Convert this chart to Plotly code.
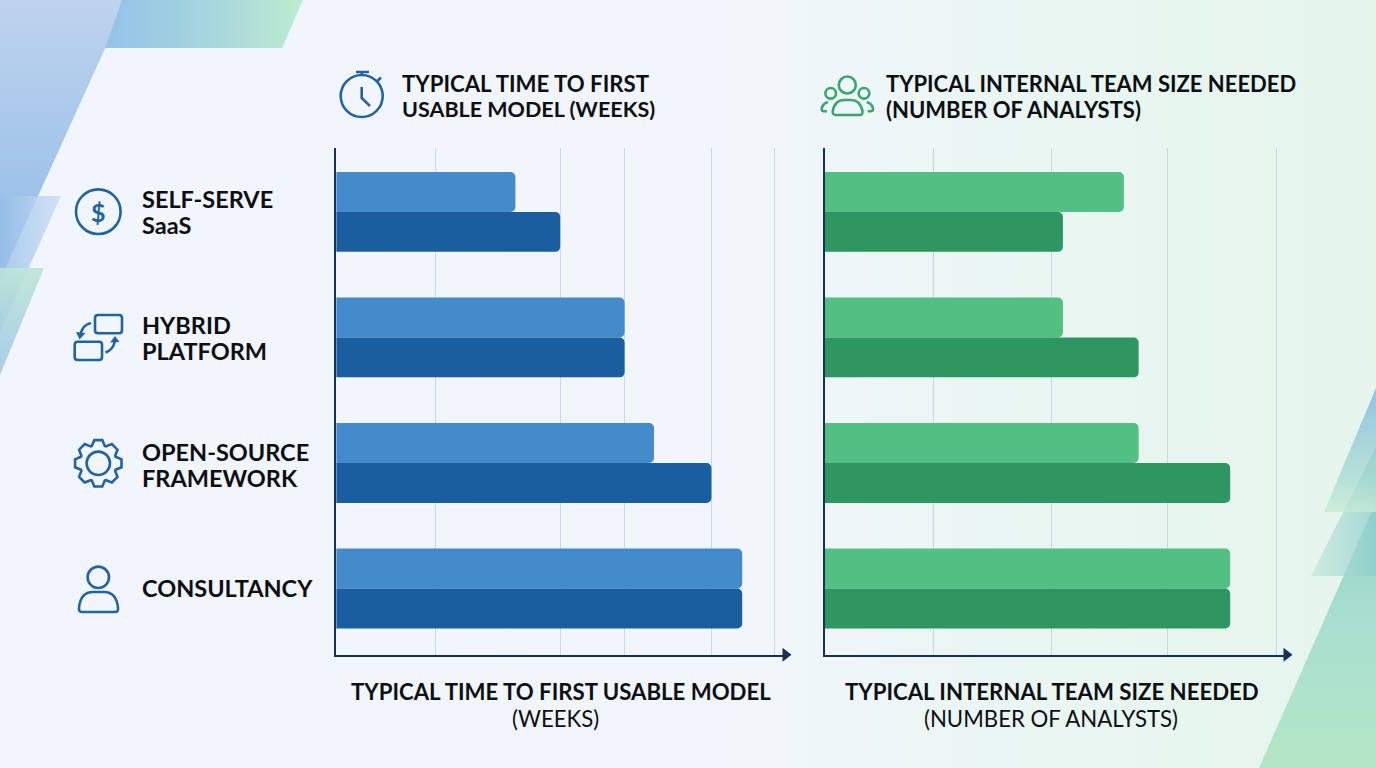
import math
import plotly.graph_objects as go

# ---------- data ----------
categories = ["SELF-SERVE SaaS", "HYBRID PLATFORM", "OPEN-SOURCE FRAMEWORK", "CONSULTANCY"]
category_lines = [["SELF-SERVE", "SaaS"], ["HYBRID", "PLATFORM"], ["OPEN-SOURCE", "FRAMEWORK"], ["CONSULTANCY"]]
weeks_light = [6.4, 10.3, 11.35, 14.5]
weeks_dark = [8.0, 10.3, 13.4, 14.5]
weeks_grid = [3.55, 8.0, 10.3, 13.4, 15.65]
team_light = [2.65, 2.11, 2.78, 3.59]
team_dark = [2.11, 2.78, 3.59, 3.59]
team_grid = [0.965, 2.01, 3.035, 4.0]
weeks_title = ["TYPICAL TIME TO FIRST", "USABLE MODEL (WEEKS)"]
team_title = ["TYPICAL INTERNAL TEAM SIZE NEEDED", "(NUMBER OF ANALYSTS)"]
weeks_axis = ["TYPICAL TIME TO FIRST USABLE MODEL", "(WEEKS)"]
team_axis = ["TYPICAL INTERNAL TEAM SIZE NEEDED", "(NUMBER OF ANALYSTS)"]

# ---------- style ----------
W, H = 1376, 768
BLUE_L, BLUE_D = "#438bca", "#1b5e9f"
GREEN_L, GREEN_D = "#52c082", "#2e9660"
AXIS = "#16305a"
GRID = "#cbd7e3"
ICON_B = "#23649f"
ICON_G = "#3ba56e"
INK = "#0d0f12"
FONT = "Lato"

fig = go.Figure()

# ---------- decorative background (first axes = page pixels) ----------
def poly(pts, kind, stops):
    xs = [p[0] for p in pts] + [pts[0][0]]
    ys = [p[1] for p in pts] + [pts[0][1]]
    if kind == "vertical":  # stops are listed top to bottom
        stops = [[1 - s, c] for s, c in reversed(stops)]
    fig.add_trace(go.Scatter(
        x=xs, y=ys, xaxis="x", yaxis="y", mode="lines", line=dict(width=0),
        fill="toself", hoverinfo="skip", showlegend=False,
        fillgradient=dict(type=kind, colorscale=stops)))

poly([(0, 0), (W, 0), (W, H), (0, H)], "horizontal",
     [[0, "#f1f5fd"], [0.55, "#f1f6fb"], [0.72, "#eaf6f3"], [1, "#e5f5ec"]])
poly([(0, 0), (127, 0), (0, 280)], "vertical",
     [[0, "#bed3ee"], [1, "#8fbbe6"]])
poly([(122, 0), (303, 0), (282, 48), (105, 48)], "horizontal",
     [[0, "#93c2e9"], [0.5, "#a6d4df"], [1, "#bdeccf"]])
poly([(0, 196), (61, 196), (0, 332)], "horizontal",
     [[0, "rgba(150,190,232,0.75)"], [1, "rgba(205,222,242,0.85)"]])
poly([(0, 268), (44, 268), (0, 375)], "vertical",
     [[0, "rgba(190,230,212,0.9)"], [1, "rgba(150,195,230,0.8)"]])
poly([(1259, H), (W, H), (W, 502)], "vertical",
     [[0, "#94d3cb"], [0.5, "#abe0cf"], [1, "#b3e6c5"]])
poly([(1311, 576), (W, 576), (W, 447)], "horizontal",
     [[0, "rgba(190,228,216,0.6)"], [1, "rgba(140,205,205,0.75)"]])
poly([(1324, 512), (W, 512), (W, 388)], "vertical",
     [[0, "rgba(130,185,225,0.85)"], [0.7, "rgba(160,215,205,0.7)"], [1, "rgba(200,235,212,0.8)"]])

# ---------- bars ----------
def bars(vals, color, name, xa, ya, group):
    fig.add_trace(go.Bar(
        y=categories, x=vals, orientation="h", name=name, xaxis=xa, yaxis=ya,
        offsetgroup=group, showlegend=False,
        marker=dict(color=color, cornerradius=5, line=dict(width=0))))

bars(weeks_light, BLUE_L, "Weeks (lower)", "x2", "y2", "a")
bars(weeks_dark, BLUE_D, "Weeks (upper)", "x2", "y2", "b")
bars(team_light, GREEN_L, "Analysts (lower)", "x3", "y3", "a")
bars(team_dark, GREEN_D, "Analysts (upper)", "x3", "y3", "b")

# ---------- text ----------
ann = []
def text(s, x, y, size, bold=True, anchor="left", color=INK):
    ann.append(dict(text=s, x=x, y=y, xref="x", yref="y", xanchor=anchor, yanchor="middle",
                    showarrow=False, font=dict(family=FONT, size=size, color=color,
                                               weight=700 if bold else 400)))

text(weeks_title[0], 400, 83, 22.2)
text(weeks_title[1], 400, 109, 21.5)
text(team_title[0], 884, 83, 22)
text(team_title[1], 884, 109, 22)
text(weeks_axis[0], 561, 691, 22.2, anchor="center")
text(weeks_axis[1], 555, 718, 22.2, bold=False, anchor="center")
text(team_axis[0], 1052, 691, 22.2, anchor="center")
text(team_axis[1], 1051, 718, 22.2, bold=False, anchor="center")
cat_y = [199, 325, 452, 588]
for lines, y in zip(category_lines, cat_y):
    for j, line in enumerate(lines):
        text(line, 140, y + 26 * j, 23.5)
text("$", 98.3, 211.5, 25, bold=True, anchor="center", color=ICON_B)

# ---------- icons and axis arrows ----------
shapes = []
def stroke(path, color=ICON_B, w=2.6):
    shapes.append(dict(type="path", path=path, xref="x", yref="y", layer="above",
                       line=dict(color=color, width=w)))
def circle(cx, cy, r, color=ICON_B, w=2.6):
    shapes.append(dict(type="circle", x0=cx - r, x1=cx + r, y0=cy - r, y1=cy + r,
                       xref="x", yref="y", layer="above", line=dict(color=color, width=w)))
def rrect(x0, y0, x1, y1, r=3):
    return (f"M{x0+r},{y0} L{x1-r},{y0} Q{x1},{y0} {x1},{y0+r} L{x1},{y1-r} Q{x1},{y1} {x1-r},{y1} "
            f"L{x0+r},{y1} Q{x0},{y1} {x0},{y1-r} L{x0},{y0+r} Q{x0},{y0} {x0+r},{y0} Z")
def triangle(pts, color):
    shapes.append(dict(type="path", xref="x", yref="y", layer="above", fillcolor=color,
                       line=dict(width=0),
                       path="M" + " L".join(f"{a},{b}" for a, b in pts) + " Z"))

# stopwatch
circle(361.7, 96, 21)
stroke("M361.7,75 L361.7,72 M356,72 L369,72 M377.5,81 L381,77.5")
stroke("M361.7,87 L361.7,98 L370,106")
# dollar
circle(98.3, 211.7, 22.3)
# hybrid
stroke(rrect(95, 315, 122, 333.3))
stroke(rrect(74.7, 341.7, 102, 360))
stroke("M91,323 Q82,325 80.5,335")
triangle([(76, 332), (85.5, 333), (79.5, 339.5)], ICON_B)
stroke("M105.5,352.5 Q113,350 115,341")
triangle([(110, 342.5), (119.5, 342), (115, 336)], ICON_B)
# gear
cx, cy = 98.3, 463.3
pts = []
for k in range(8):
    a = k * math.pi / 4 - math.pi / 2
    for d, r in [(-0.36, 18.5), (-0.17, 23.5), (0.17, 23.5), (0.36, 18.5)]:
        pts.append((cx + r * math.cos(a + d), cy + r * math.sin(a + d)))
stroke("M" + " L".join(f"{a:.1f},{b:.1f}" for a, b in pts) + " Z")
circle(cx, cy, 11.7)
# person
circle(98.3, 577.3, 10.7)
stroke("M82,612 L115,612 Q118.5,612 118,608 Q116.5,592 104,592 L93,592 Q80.5,592 79,608 Q78.5,612 82,612 Z")
# team
circle(847.3, 85, 8.5, ICON_G)
circle(830.7, 93.3, 5.3, ICON_G)
circle(864, 93.3, 5.3, ICON_G)
stroke("M836,115 L859.5,115 Q863,115 862.5,111 Q860,100 851,100 L844,100 Q835,100 832.7,111 Q832.3,115 836,115 Z", ICON_G)
stroke("M828,102 Q821.5,104 821.7,110 Q822,111.5 827,111.3", ICON_G)
stroke("M866.7,102 Q873.2,104 873,110 Q872.7,111.5 867.7,111.3", ICON_G)
# axis arrows
triangle([(782.5, 647.7), (791.5, 654.7), (782.5, 661.7)], AXIS)
triangle([(1283.5, 647.7), (1292.5, 654.7), (1283.5, 661.7)], AXIS)

# ---------- layout ----------
def xaxis(x0, x1, scale, grid, anchor):
    return dict(domain=[x0 / W, x1 / W], range=[0, (x1 - x0) / scale], anchor=anchor,
                tickmode="array", tickvals=grid, showticklabels=False, ticks="",
                showgrid=True, gridcolor=GRID, gridwidth=1.2, zeroline=False,
                showline=True, linecolor=AXIS, linewidth=2, fixedrange=True)
def yaxis(anchor):
    # category centres fall 125.67 px apart, first centre at y=212
    return dict(domain=[1 - 655 / H, 1 - 148 / H], range=[3.53, -0.509], anchor=anchor,
                type="category", categoryorder="array", categoryarray=categories,
                showticklabels=False, ticks="", showgrid=False, zeroline=False,
                showline=True, linecolor=AXIS, linewidth=2, fixedrange=True)

fig.update_layout(
    width=W, height=H, margin=dict(l=0, r=0, t=0, b=0),
    paper_bgcolor="#f1f5fd", plot_bgcolor="rgba(0,0,0,0)",
    barmode="group", bargap=0.3634, bargroupgap=0,
    showlegend=False, annotations=ann, shapes=shapes,
    xaxis=dict(domain=[0, 1], range=[0, W], visible=False, fixedrange=True),
    yaxis=dict(domain=[0, 1], range=[H, 0], visible=False, fixedrange=True),
    xaxis2=xaxis(336.2, 784, 28, weeks_grid, "y2"), yaxis2=yaxis("x2"),
    xaxis3=xaxis(824.5, 1285, 113, team_grid, "y3"), yaxis3=yaxis("x3"),
)

fig.write_html("out.html", config=dict(displayModeBar=False),
               post_script="document.body.style.margin='0';document.documentElement.style.overflow='hidden';")
